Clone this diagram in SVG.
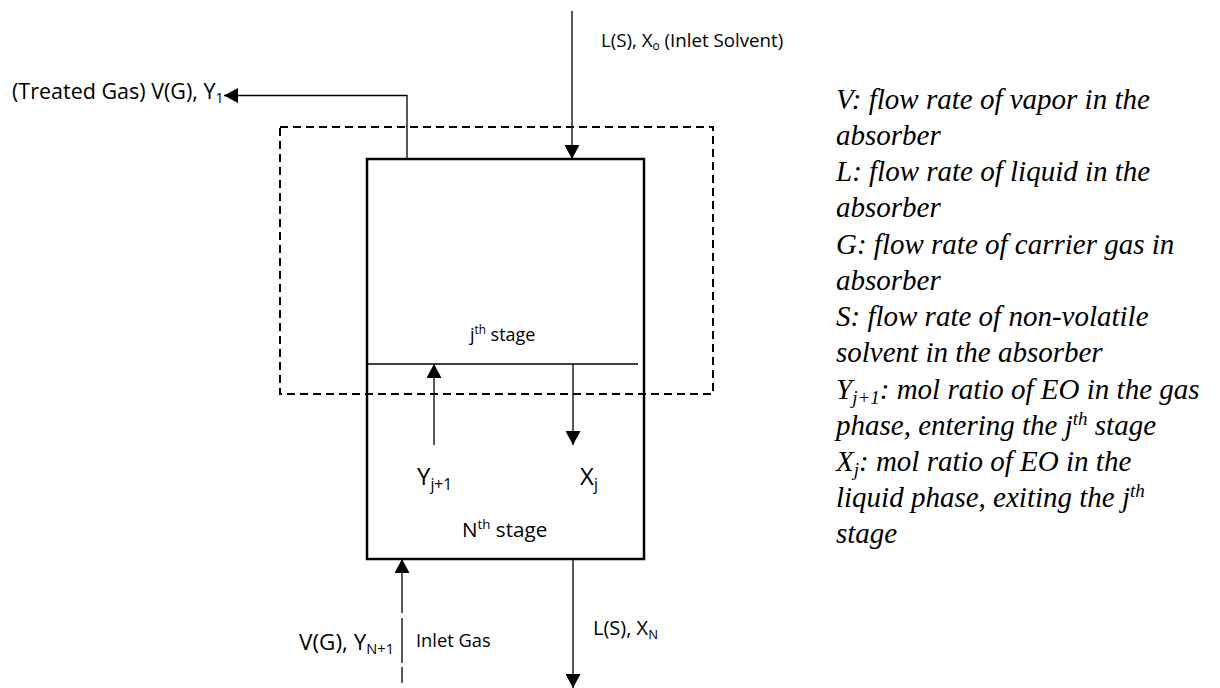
<svg xmlns="http://www.w3.org/2000/svg" width="1220" height="688" viewBox="0 0 1220 688">
<defs>
<marker id="ah" markerUnits="userSpaceOnUse" markerWidth="15" markerHeight="15" refX="14" refY="7.5" orient="auto">
<path d="M0,0 L14,7.5 L0,15 Z" fill="#000"/>
</marker>
<style>
.lbl{font-family:"Open Sans","Liberation Sans",sans-serif;fill:#000}
.leg{font-family:"Liberation Serif","Times New Roman",serif;font-style:italic;font-size:29px;fill:#000}
.thin{stroke:#000;stroke-width:1.3;fill:none}
.arr{stroke:#000;stroke-width:1.3;fill:none;marker-end:url(#ah)}
</style>
</defs>
<rect width="1220" height="688" fill="#fff"/>

<g id="envelope">
<rect x="280" y="127" width="433" height="267" fill="none" stroke="#000" stroke-width="2" stroke-dasharray="8,5"/>
</g>

<g id="column">
<rect x="367" y="159" width="277" height="400" fill="none" stroke="#000" stroke-width="2.5"/>
<line class="thin" x1="367" y1="364" x2="638" y2="364"/>
<text class="lbl" x="470" y="341" font-size="18">j<tspan font-size="11.7" dy="-7">th</tspan><tspan dy="7"> stage</tspan></text>
<text class="lbl" x="462" y="537" font-size="20.6">N<tspan font-size="13.4" dy="-8">th</tspan><tspan dy="8"> stage</tspan></text>
<text class="lbl" x="417" y="485" font-size="24">Y<tspan font-size="15.6" dy="5">j+1</tspan></text>
<text class="lbl" x="580" y="485" font-size="24">X<tspan font-size="15.6" dy="5">j</tspan></text>
</g>

<g id="connectors">
<line class="arr" x1="572" y1="11" x2="572" y2="159"/>
<polyline class="arr" points="407,159 407,95.5 224,95.5"/>
<line class="arr" x1="434" y1="445" x2="434" y2="364"/>
<line class="arr" x1="573" y1="364" x2="573" y2="445"/>
<line class="arr" x1="402" y1="613" x2="402" y2="559"/>
<line class="thin" x1="402" y1="618" x2="402" y2="663"/>
<line class="thin" x1="402" y1="667" x2="402" y2="683"/>
<line class="arr" x1="573" y1="559" x2="573" y2="688"/>
</g>

<g id="labels">
<text class="lbl" x="12" y="99" font-size="21.5">(Treated Gas) V(G), Y<tspan font-size="14" dy="4">1</tspan></text>
<text class="lbl" x="601" y="47" font-size="18.7">L(S), X<tspan font-size="12" dy="3">o</tspan><tspan dy="-3"> (Inlet Solvent)</tspan></text>
<text class="lbl" x="299" y="650" font-size="22.5">V(G), Y<tspan font-size="14.6" dy="4">N+1</tspan></text>
<text class="lbl" x="416" y="647" font-size="18.3">Inlet Gas</text>
<text class="lbl" x="593" y="635" font-size="20">L(S), X<tspan font-size="13" dy="4">N</tspan></text>
</g>

<g id="legend">
<text class="leg" x="836" y="109">V: flow rate of vapor in the</text>
<text class="leg" x="836" y="145">absorber</text>
<text class="leg" x="836" y="181">L: flow rate of liquid in the</text>
<text class="leg" x="836" y="217">absorber</text>
<text class="leg" x="836" y="254">G: flow rate of carrier gas in</text>
<text class="leg" x="836" y="290">absorber</text>
<text class="leg" x="836" y="326">S: flow rate of non-volatile</text>
<text class="leg" x="836" y="362">solvent in the absorber</text>
<text class="leg" x="836" y="399">Y<tspan font-size="19" dy="5">j+1</tspan><tspan dy="-5">: mol ratio of EO in the gas</tspan></text>
<text class="leg" x="836" y="435">phase, entering the j<tspan font-size="19" dy="-10">th</tspan><tspan dy="10"> stage</tspan></text>
<text class="leg" x="836" y="471">X<tspan font-size="19" dy="5">j</tspan><tspan dy="-5">: mol ratio of EO in the</tspan></text>
<text class="leg" x="836" y="507">liquid phase, exiting the j<tspan font-size="19" dy="-10">th</tspan></text>
<text class="leg" x="836" y="543">stage</text>
</g>
</svg>
